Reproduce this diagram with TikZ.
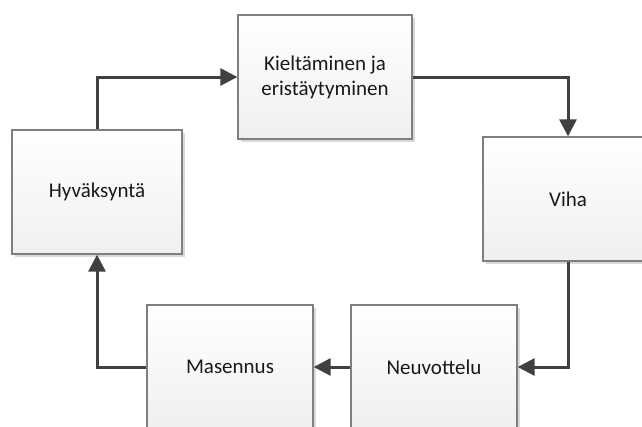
\documentclass[tikz,border=0pt]{standalone}
\usepackage{fontspec}
\setmainfont{Carlito}
\usetikzlibrary{arrows.meta,shadows}
\definecolor{lineC}{HTML}{404040}
\definecolor{edgeC}{HTML}{7F7F7F}
\tikzset{
  stagebox/.style={draw=edgeC, line width=1.3pt, top color=white, bottom color=black!6,
    drop shadow={shadow xshift=3pt, shadow yshift=-3pt, fill=black!15, opacity=1},
    font=\fontsize{21}{25}\selectfont, text=black!90, align=center, inner sep=0pt},
  flow/.style={draw=lineC, line width=3pt, -{Triangle[length=17pt,width=17pt]}}
}
\begin{document}
\begin{tikzpicture}[x=1pt,y=-1pt]
\useasboundingbox (0,0) rectangle (642,426);
\clip (0,0) rectangle (642,426);
\node[stagebox, minimum width=174pt, minimum height=124pt] (kie) at (325,77) {Kieltäminen ja\\eristäytyminen};
\node[stagebox, minimum width=170pt, minimum height=124pt] (viha) at (568,199) {Viha};
\node[stagebox, minimum width=166pt, minimum height=124pt] (neu) at (434,367) {Neuvottelu};
\node[stagebox, minimum width=166pt, minimum height=124pt] (mas) at (230,367) {Masennus};
\node[stagebox, minimum width=170pt, minimum height=124pt] (hyv) at (97,192) {Hyväksyntä};
\draw[flow] (kie.east) -| (viha.north);
\draw[flow] (viha.south) |- (neu.east);
\draw[flow] (neu.west) -- (mas.east);
\draw[flow] (mas.west) -| (hyv.south);
\draw[flow] (hyv.north) |- (kie.west);
\end{tikzpicture}
\end{document}
